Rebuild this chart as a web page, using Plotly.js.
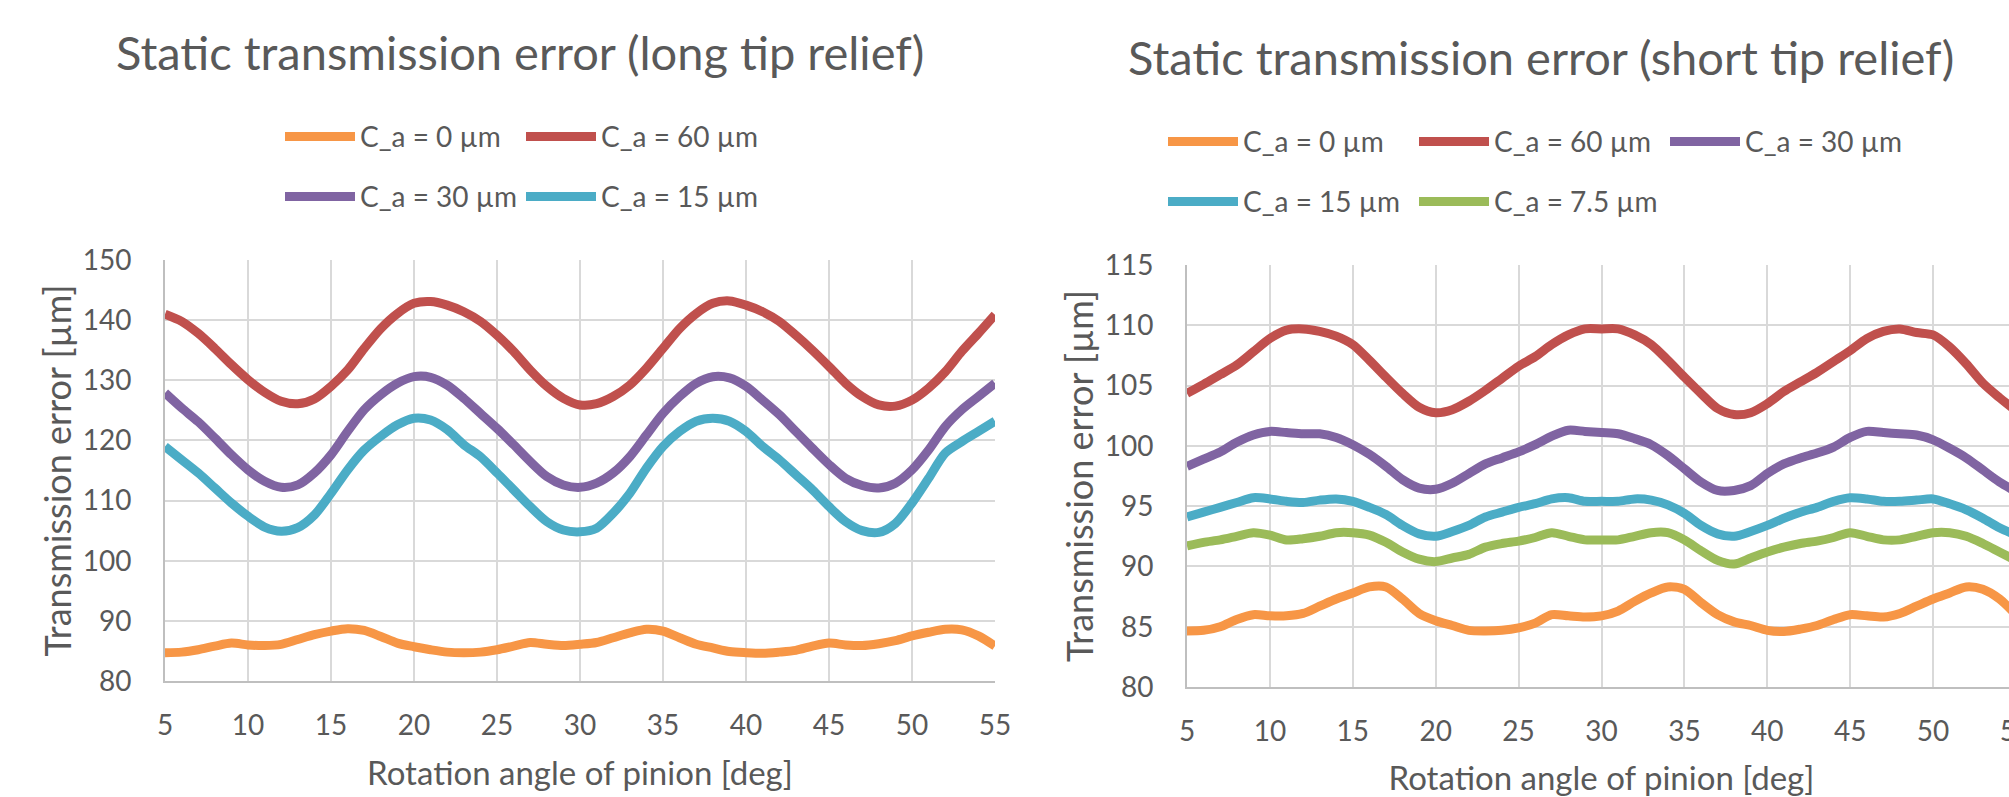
<!DOCTYPE html>
<html><head><meta charset="utf-8">
<script src="https://cdn.plot.ly/plotly-3.0.1.min.js"></script>
<style>html,body{margin:0;padding:0;overflow:hidden;background:#fff}#chart{width:2030px;height:797px}</style>
</head><body><div id="chart"></div>
<script>
// Rotation angle of pinion [deg]
const angle = [5,6,7,8,9,10,11,12,13,14,15,16,17,18,19,20,21,22,23,24,25,26,27,28,29,30,31,32,33,34,35,36,37,38,39,40,41,42,43,44,45,46,47,48,49,50,51,52,53,54,55];

// Long tip relief — transmission error [µm]
const long_0  = [84.7,84.8,85.2,85.8,86.3,86.0,85.9,86.1,86.9,87.7,88.3,88.7,88.4,87.4,86.3,85.7,85.2,84.8,84.7,84.8,85.2,85.8,86.4,86.1,85.9,86.1,86.4,87.2,88.0,88.6,88.3,87.2,86.1,85.5,84.9,84.7,84.6,84.8,85.1,85.8,86.3,86.0,85.9,86.2,86.7,87.5,88.1,88.6,88.5,87.5,85.8];
const long_60 = [141.0,139.8,137.8,135.3,132.6,130.1,128.0,126.5,126.1,126.9,129.0,131.7,135.3,138.6,141.1,142.8,143.1,142.5,141.4,139.8,137.5,134.8,131.7,129.0,127.0,125.9,126.1,127.3,129.2,132.0,135.3,138.6,141.1,142.8,143.2,142.5,141.4,139.8,137.5,135.0,132.3,129.5,127.3,125.9,125.7,126.7,128.7,131.4,134.8,137.8,140.9];
const long_30 = [127.9,125.4,123.1,120.4,117.6,115.1,113.2,112.2,112.6,114.6,117.6,121.5,125.1,127.6,129.5,130.6,130.5,129.2,127.0,124.5,122.0,119.3,116.5,114.0,112.6,112.2,112.9,114.6,117.3,120.9,124.5,127.3,129.5,130.6,130.4,129.0,126.7,124.3,121.5,118.7,116.0,113.7,112.5,112.1,112.9,115.1,118.4,122.3,125.1,127.3,129.5];
const long_15 = [119.0,116.8,114.6,112.1,109.6,107.4,105.6,104.9,105.5,107.6,111.2,115.1,118.4,120.7,122.6,123.7,123.4,121.8,119.3,117.3,114.6,111.8,109.0,106.5,105.1,104.8,105.4,107.9,111.2,115.4,119.0,121.5,123.2,123.7,123.2,121.5,119.0,116.8,114.3,111.8,109.0,106.5,105.0,104.7,106.2,109.6,113.7,117.9,119.8,121.5,123.2];

// Short tip relief — transmission error [µm]
const short_0   = [84.65,84.7,85.0,85.6,86.0,85.9,85.9,86.1,86.7,87.3,87.8,88.3,88.3,87.3,86.1,85.5,85.1,84.7,84.65,84.7,84.9,85.3,86.0,85.9,85.8,85.9,86.3,87.1,87.8,88.3,88.1,87.0,86.0,85.4,85.1,84.7,84.6,84.8,85.1,85.6,86.0,85.9,85.8,86.1,86.7,87.3,87.8,88.3,88.1,87.3,86.0];
const short_60  = [104.35,105.1,105.9,106.7,107.8,108.9,109.6,109.7,109.5,109.1,108.4,107.1,105.7,104.35,103.2,102.75,103.0,103.7,104.6,105.6,106.6,107.4,108.4,109.2,109.7,109.7,109.7,109.2,108.4,107.1,105.7,104.35,103.1,102.6,102.75,103.5,104.5,105.3,106.1,107.0,107.9,108.9,109.5,109.7,109.4,109.2,108.2,106.8,105.2,104.0,102.9];
const short_30  = [98.3,98.9,99.5,100.3,100.9,101.2,101.1,101.0,101.0,100.7,100.1,99.3,98.3,97.2,96.5,96.4,96.9,97.7,98.5,99.0,99.5,100.1,100.8,101.3,101.2,101.1,101.0,100.6,100.1,99.2,98.1,97.0,96.3,96.3,96.7,97.7,98.5,99.0,99.4,99.9,100.7,101.2,101.1,101.0,100.9,100.5,99.8,99.0,98.0,97.0,96.2];
const short_15  = [94.1,94.5,94.9,95.3,95.7,95.6,95.4,95.3,95.5,95.6,95.4,94.9,94.3,93.4,92.7,92.5,92.9,93.4,94.1,94.5,94.9,95.2,95.6,95.7,95.4,95.4,95.4,95.6,95.5,95.1,94.4,93.4,92.7,92.5,92.9,93.4,94.0,94.5,94.9,95.4,95.7,95.6,95.4,95.4,95.5,95.6,95.2,94.7,94.0,93.2,92.6];
const short_7_5 = [91.7,92.0,92.2,92.5,92.8,92.6,92.2,92.3,92.5,92.8,92.8,92.6,92.0,91.2,90.6,90.4,90.7,91.0,91.6,91.9,92.1,92.4,92.8,92.5,92.2,92.2,92.2,92.5,92.8,92.8,92.2,91.3,90.5,90.2,90.7,91.2,91.6,91.9,92.1,92.4,92.8,92.5,92.2,92.2,92.5,92.8,92.8,92.5,91.9,91.2,90.5];

const seriesNames = ['C_a = 0 µm','C_a = 60 µm','C_a = 30 µm','C_a = 15 µm','C_a = 7.5 µm'];
const seriesColors = ['#F79646','#C0504D','#8064A2','#4BACC6','#9BBB59'];
const chartTitles = ['Static transmission error (long tip relief)','Static transmission error (short tip relief)'];
const xTitle = 'Rotation angle of pinion [deg]';
const yTitle = 'Transmission error [µm]';
const xTicks = [5,10,15,20,25,30,35,40,45,50,55];
const yTicksLong = [80,90,100,110,120,130,140,150];
const yTicksShort = [80,85,90,95,100,105,110,115];

const FONT = 'Lato, "Open Sans", sans-serif';
const TXT = '#595959';
const LW = 9;

function tr(y, idx, xa, ya, leg) {
  return {x: angle, y: y, type: 'scatter', mode: 'lines', name: seriesNames[idx],
    line: {color: seriesColors[idx], width: LW, shape: 'spline', smoothing: 0.8},
    xaxis: xa, yaxis: ya, legend: leg, hoverinfo: 'skip'};
}

const data = [
  tr(long_0, 0, 'x', 'y', 'legend'),
  tr(long_60, 1, 'x', 'y', 'legend'),
  tr(long_30, 2, 'x', 'y', 'legend2'),
  tr(long_15, 3, 'x', 'y', 'legend2'),
  tr(short_0, 0, 'x2', 'y2', 'legend3'),
  tr(short_60, 1, 'x2', 'y2', 'legend3'),
  tr(short_30, 2, 'x2', 'y2', 'legend3'),
  tr(short_15, 3, 'x2', 'y2', 'legend4'),
  tr(short_7_5, 4, 'x2', 'y2', 'legend4')
];

const W = 2030, H = 797;
const mL = 165, mR = 14, mT = 260, mB = 110;
const pw = W - mL - mR, ph = H - mT - mB;
const px = v => (v - mL) / pw;
const py = v => (H - mB - v) / ph;

const xaxisBase = {
  range: [5, 55], tickmode: 'array', tickvals: xTicks, ticktext: xTicks.map(String),
  showgrid: true, gridcolor: '#D9D9D9', gridwidth: 2,
  showline: true, linecolor: '#BFBFBF', linewidth: 2, zeroline: false,
  ticks: '', ticklabelstandoff: 18, ticklabeloverflow: 'allow',
  tickfont: {family: FONT, size: 28, color: TXT},
  title: {text: xTitle, font: {family: FONT, size: 33, color: TXT}, standoff: 22},
  fixedrange: true
};
const yaxisBase = {
  showgrid: true, gridcolor: '#D9D9D9', gridwidth: 2,
  showline: true, linecolor: '#BFBFBF', linewidth: 2, zeroline: false, mirror: false,
  ticks: '', ticklabelstandoff: 26,
  tickfont: {family: FONT, size: 28, color: TXT},
  title: {text: yTitle, font: {family: FONT, size: 36, color: TXT}, standoff: 0},
  fixedrange: true
};

function legendAt(xp, yp, ew) {
  return {orientation: 'h', x: px(xp), y: py(yp), xanchor: 'left', yanchor: 'middle',
    font: {family: FONT, size: 28, color: TXT}, bgcolor: 'rgba(0,0,0,0)',
    itemwidth: 70, entrywidthmode: 'pixels', entrywidth: ew, tracegroupgap: 0,
    itemclick: false, itemdoubleclick: false};
}

const layout = {
  width: W, height: H,
  margin: {l: mL, r: mR, t: mT, b: mB, pad: 0},
  paper_bgcolor: '#fff', plot_bgcolor: '#fff',
  showlegend: true,
  xaxis: Object.assign({}, xaxisBase, {domain: [0, px(995)], anchor: 'y'}),
  yaxis: Object.assign({}, yaxisBase, {domain: [py(681), 1], range: [80, 150], tickmode: 'array', tickvals: yTicksLong, anchor: 'x'}),
  xaxis2: Object.assign({}, xaxisBase, {domain: [px(1187), 1], anchor: 'y2'}),
  yaxis2: Object.assign({}, yaxisBase, {domain: [0, py(265)], range: [80, 115], tickmode: 'array', tickvals: yTicksShort, anchor: 'x2'}),
  legend: legendAt(280, 136.7, 156),
  legend2: legendAt(280, 196.7, 156),
  legend3: legendAt(1163, 141.7, 166),
  legend4: legendAt(1163, 201.7, 166),
  annotations: [
    {text: chartTitles[0], xref: 'paper', yref: 'paper', x: px(519.5), y: py(52), xanchor: 'center', yanchor: 'middle', showarrow: false, font: {family: FONT, size: 47, color: TXT}},
    {text: chartTitles[1], xref: 'paper', yref: 'paper', x: px(1541), y: py(57), xanchor: 'center', yanchor: 'middle', showarrow: false, font: {family: FONT, size: 47, color: TXT}}
  ]
};

Plotly.newPlot('chart', data, layout, {staticPlot: true, displayModeBar: false});
</script>
</body></html>
